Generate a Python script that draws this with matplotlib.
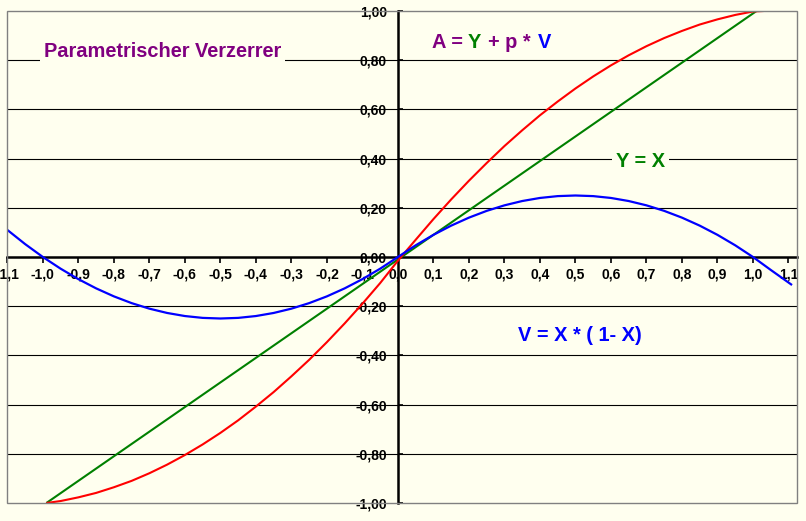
import matplotlib
matplotlib.use("Agg")
import matplotlib.pyplot as plt
from matplotlib.patches import Rectangle

# ---------------- data ----------------
x_blue = [-1.10, -1.05, -1.00, -0.95, -0.90, -0.85, -0.80, -0.75, -0.70, -0.65, -0.60,
          -0.55, -0.50, -0.45, -0.40, -0.35, -0.30, -0.25, -0.20, -0.15, -0.10, -0.05,
          0.00, 0.05, 0.10, 0.15, 0.20, 0.25, 0.30, 0.35, 0.40, 0.45, 0.50, 0.55,
          0.60, 0.65, 0.70, 0.75, 0.80, 0.85, 0.90, 0.95, 1.00, 1.05, 1.11]
v_blue = [0.110, 0.0525, 0.000, -0.0475, -0.090, -0.1275, -0.160, -0.1875, -0.210, -0.2275, -0.240,
          -0.2475, -0.250, -0.2475, -0.240, -0.2275, -0.210, -0.1875, -0.160, -0.1275, -0.090, -0.0475,
          0.000, 0.0475, 0.090, 0.1275, 0.160, 0.1875, 0.210, 0.2275, 0.240, 0.2475, 0.250, 0.2475,
          0.240, 0.2275, 0.210, 0.1875, 0.160, 0.1275, 0.090, 0.0475, 0.000, -0.0525, -0.114]

x_green = [-0.99, -0.90, -0.80, -0.70, -0.60, -0.50, -0.40, -0.30, -0.20, -0.10, 0.00,
           0.10, 0.20, 0.30, 0.40, 0.50, 0.60, 0.70, 0.80, 0.90, 1.01]
y_green = [-1.00, -0.91, -0.81, -0.71, -0.61, -0.51, -0.41, -0.31, -0.21, -0.11, -0.01,
           0.09, 0.19, 0.29, 0.39, 0.49, 0.59, 0.69, 0.79, 0.89, 1.00]

x_red = [-0.99, -0.95, -0.90, -0.85, -0.80, -0.75, -0.70, -0.65, -0.60, -0.55, -0.50,
         -0.45, -0.40, -0.35, -0.30, -0.25, -0.20, -0.15, -0.10, -0.05, 0.00,
         0.05, 0.10, 0.15, 0.20, 0.25, 0.30, 0.35, 0.40, 0.45, 0.50,
         0.55, 0.60, 0.65, 0.70, 0.75, 0.80, 0.85, 0.90, 0.95, 1.00, 1.03]
a_red = [-1.000, -0.992, -0.977, -0.959, -0.936, -0.910, -0.879, -0.844, -0.805, -0.762, -0.715,
         -0.664, -0.608, -0.549, -0.485, -0.418, -0.346, -0.270, -0.190, -0.106, -0.015,
         0.070, 0.154, 0.234, 0.310, 0.382, 0.451, 0.515, 0.576, 0.632, 0.685,
         0.734, 0.779, 0.820, 0.857, 0.890, 0.919, 0.945, 0.966, 0.984, 0.998, 1.000]

x_ticks = [-1.1, -1.0, -0.9, -0.8, -0.7, -0.6, -0.5, -0.4, -0.3, -0.2, -0.1, 0.0,
           0.1, 0.2, 0.3, 0.4, 0.5, 0.6, 0.7, 0.8, 0.9, 1.0, 1.1]
x_ticklabels = ["-1,1", "-1,0", "-0,9", "-0,8", "-0,7", "-0,6", "-0,5", "-0,4", "-0,3", "-0,2", "-0,1", "0,0",
                "0,1", "0,2", "0,3", "0,4", "0,5", "0,6", "0,7", "0,8", "0,9", "1,0", "1,1"]
y_ticks = [-1.0, -0.8, -0.6, -0.4, -0.2, 0.0, 0.2, 0.4, 0.6, 0.8, 1.0]
y_ticklabels = ["-1,00", "-0,80", "-0,60", "-0,40", "-0,20", "0,00", "0,20", "0,40", "0,60", "0,80", "1,00"]
grid_levels = [-0.8, -0.6, -0.4, -0.2, 0.2, 0.4, 0.6, 0.8]

# ---------------- style ----------------
BG = "#FFFFEF"
PURPLE = "#800080"
GREEN = "#008000"
BLUE = "#0000FF"
RED = "#FF0000"
FONT = "Liberation Sans"

plt.rcParams["font.family"] = [FONT, "DejaVu Sans"]

fig = plt.figure(figsize=(8.06, 5.21), dpi=100, facecolor=BG)
ax = fig.add_axes([7 / 806, 18 / 521, 790 / 806, 492 / 521])
ax.set_facecolor(BG)
ax.set_xlim(-1.101, 1.124)
ax.set_ylim(-1.0, 1.0)

for g in grid_levels:
    ax.axhline(g, color="black", lw=0.8, zorder=1)

ax.plot(x_green, y_green, color=GREEN, lw=1.5, zorder=4, solid_capstyle="butt")
ax.plot(x_red, a_red, color=RED, lw=1.5, zorder=4, solid_capstyle="butt")
ax.plot(x_blue, v_blue, color=BLUE, lw=1.6, zorder=5, solid_capstyle="butt")

# axes crossing at zero
for s in ["top", "right"]:
    ax.spines[s].set_visible(False)
ax.spines["left"].set_position(("data", 0))
ax.spines["bottom"].set_position(("data", 0))
ax.spines["left"].set_linewidth(1.8)
ax.spines["bottom"].set_linewidth(1.8)
ax.spines["left"].set_zorder(3)
ax.spines["bottom"].set_zorder(3)

ax.set_xticks(x_ticks)
ax.set_xticklabels(x_ticklabels)
ax.set_yticks(y_ticks)
ax.set_yticklabels(y_ticklabels)
ax.tick_params(axis="x", direction="out", length=4, width=1.2, pad=3.5,
               labelsize=10, colors="black")
ax.tick_params(axis="y", direction="in", length=3.5, width=1.2, pad=8,
               labelsize=10, colors="black")
for lab in ax.get_xticklabels() + ax.get_yticklabels():
    lab.set_fontweight("bold")

# plot-area border
ax.add_patch(Rectangle((0, 0), 1, 1, transform=ax.transAxes, fill=False,
                       edgecolor="#808080", lw=1.0, zorder=6, clip_on=False))

# ---------------- annotations ----------------
tkw = dict(fontsize=14.4, fontweight="bold", va="baseline", ha="left", zorder=7)
ax.text(-0.997, 0.812, "Parametrischer Verzerrer", color=PURPLE,
        bbox=dict(boxstyle="square,pad=0.2", facecolor=BG, edgecolor="none"), **tkw)

ax.text(0.0958, 0.851, "A =", color=PURPLE, **tkw)
ax.text(0.197, 0.851, "Y", color=GREEN, **tkw)
ax.text(0.2535, 0.851, "+ p *", color=PURPLE, **tkw)
ax.text(0.394, 0.851, "V", color=BLUE, **tkw)

ax.text(0.614, 0.367, "Y = X", color=GREEN,
        bbox=dict(boxstyle="square,pad=0.2", facecolor=BG, edgecolor="none"), **tkw)

ax.text(0.338, -0.341, "V = X * ( 1- X)", color=BLUE, **tkw)

fig.savefig("out.png", dpi=100, facecolor=BG)
